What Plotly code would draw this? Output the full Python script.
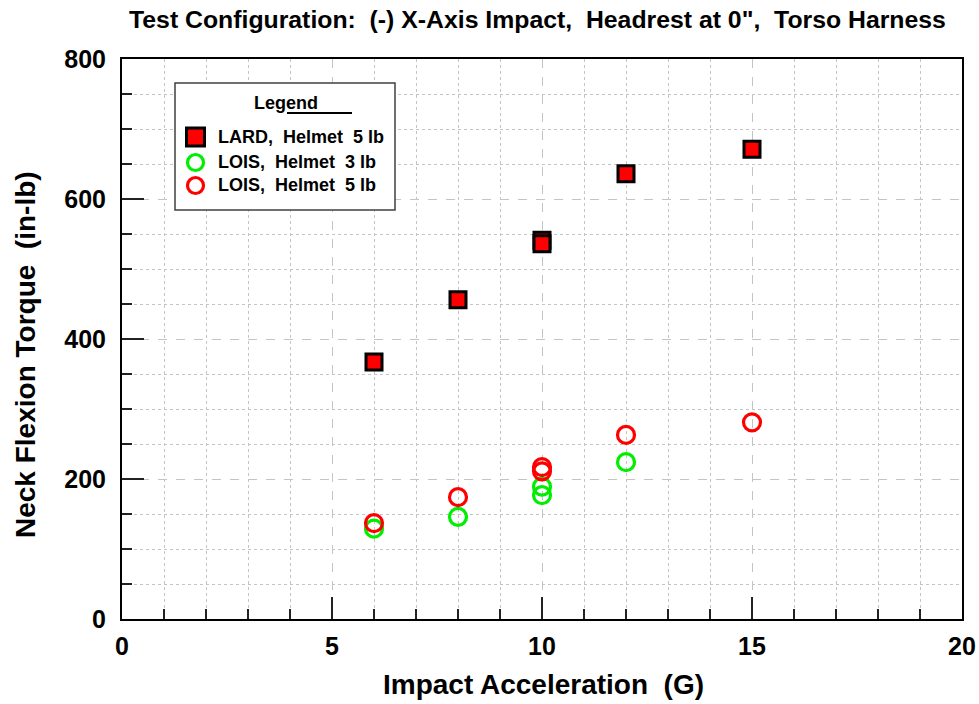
import plotly.graph_objects as go

NB = "\u00a0"

lard5_x = [6, 8, 10, 10, 12, 15]
lard5_y = [367, 456, 541, 536, 636, 671]

lois3_x = [6, 8, 10, 10, 12]
lois3_y = [129, 146, 189, 177, 224]

lois5_x = [6, 8, 10, 10, 12, 15]
lois5_y = [137, 174, 217, 211, 263, 281]

series_names = ["LARD," + NB*2 + "Helmet" + NB*2 + "5 lb",
                "LOIS," + NB*2 + "Helmet" + NB*2 + "3 lb",
                "LOIS," + NB*2 + "Helmet" + NB*2 + "5 lb"]

RED = "#ff0000"
GREEN = "#00ee00"

fig = go.Figure()
fig.add_trace(go.Scatter(x=lard5_x, y=lard5_y, mode="markers", name=series_names[0],
                         marker=dict(symbol="square", size=16, color=RED,
                                     line=dict(color="black", width=3))))
fig.add_trace(go.Scatter(x=lois3_x, y=lois3_y, mode="markers", name=series_names[1],
                         marker=dict(symbol="circle-open", size=17, color=GREEN,
                                     line=dict(color=GREEN, width=3.2))))
fig.add_trace(go.Scatter(x=lois5_x, y=lois5_y, mode="markers", name=series_names[2],
                         marker=dict(symbol="circle-open", size=17, color=RED,
                                     line=dict(color=RED, width=3.2))))

font = "Liberation Sans, Arial, sans-serif"
grid = "#c4c4c4"

# screen plot area: x 122..962, y 59..619
def py(p):
    return (619 - p) / 560.0

def px(p):
    return (p - 122) / 840.0

shapes = []
annotations = []

# legend box
shapes.append(dict(type="rect", xref="paper", yref="paper",
                   x0=px(175), x1=px(395), y0=py(210), y1=py(83),
                   line=dict(color="#404040", width=1.5), fillcolor="white", layer="above"))
annotations.append(dict(text="<b>Legend</b>", xref="paper", yref="paper",
                        x=px(286), y=py(103), xanchor="center", yanchor="middle",
                        showarrow=False, font=dict(size=18, family=font, color="black")))
shapes.append(dict(type="line", xref="paper", yref="paper",
                   x0=px(287), x1=px(352), y0=py(113), y1=py(113),
                   line=dict(color="black", width=2), layer="above"))
# legend symbols
shapes.append(dict(type="rect", xref="paper", yref="paper",
                   x0=px(186.5), x1=px(204.5), y0=py(146), y1=py(128),
                   line=dict(color="black", width=3), fillcolor=RED, layer="above"))
shapes.append(dict(type="circle", xref="paper", yref="paper",
                   x0=px(187.5), x1=px(203.5), y0=py(170.5), y1=py(154.5),
                   line=dict(color=GREEN, width=3.2), fillcolor="white", layer="above"))
shapes.append(dict(type="circle", xref="paper", yref="paper",
                   x0=px(187.5), x1=px(203.5), y0=py(193.5), y1=py(177.5),
                   line=dict(color=RED, width=3.2), fillcolor="white", layer="above"))
for name, yc in zip(series_names, [137, 161.5, 185]):
    annotations.append(dict(text="<b>" + name + "</b>", xref="paper", yref="paper",
                            x=px(216), y=py(yc), xanchor="left", yanchor="middle",
                            showarrow=False,
                            font=dict(size=18, family=font, color="black")))

annotations += [
    dict(text="<b>Test Configuration:" + NB*2 + "(-) X-Axis Impact," + NB*2 +
              "Headrest at 0\"," + NB*2 + "Torso Harness</b>",
         xref="paper", yref="paper", x=px(537), y=py(19),
         xanchor="center", yanchor="middle", showarrow=False,
         font=dict(size=24.8, family=font, color="black")),
    dict(text="<b>Impact Acceleration" + NB*2 + "(G)</b>",
         xref="paper", yref="paper", x=px(543), y=py(684),
         xanchor="center", yanchor="middle", showarrow=False,
         font=dict(size=28, family=font, color="black")),
    dict(text="<b>Neck Flexion Torque" + NB*2 + "(in-lb)</b>",
         xref="paper", yref="paper", x=px(25), y=py(355),
         xanchor="center", yanchor="middle", showarrow=False, textangle=-90,
         font=dict(size=28, family=font, color="black")),
]

fig.update_layout(
    width=979, height=704,
    margin=dict(l=122, r=17, t=59, b=85, autoexpand=False),
    paper_bgcolor="white", plot_bgcolor="white",
    font=dict(family=font, color="black"),
    showlegend=False,
    hovermode=False,
    xaxis=dict(range=[0, 20], dtick=5, tick0=0, automargin=False,
               showline=True, linecolor="black", linewidth=2, mirror=True,
               ticks="inside", ticklen=22, tickwidth=1.5, tickcolor="#222222",
               showgrid=True, gridcolor=grid, griddash="dash", gridwidth=1,
               zeroline=False, ticklabelstandoff=4,
               tickfont=dict(size=25, family=font, color="black"),
               tickprefix="<b>", ticksuffix="</b>",
               minor=dict(dtick=1, ticks="inside", ticklen=10, tickcolor="#222222",
                          showgrid=True, gridcolor=grid, griddash="dot", gridwidth=1)),
    yaxis=dict(range=[0, 800], dtick=200, tick0=0, automargin=False,
               showline=True, linecolor="black", linewidth=2, mirror=True,
               ticks="inside", ticklen=22, tickwidth=1.5, tickcolor="#222222",
               showgrid=True, gridcolor=grid, griddash="dash", gridwidth=1,
               zeroline=False, ticklabelstandoff=9,
               tickfont=dict(size=25, family=font, color="black"),
               tickprefix="<b>", ticksuffix="</b>",
               minor=dict(dtick=50, ticks="inside", ticklen=10, tickcolor="#222222",
                          showgrid=True, gridcolor=grid, griddash="dot", gridwidth=1)),
    shapes=shapes,
    annotations=annotations,
)

fig.write_html("out.html",
               config={"displayModeBar": False, "staticPlot": True},
               post_script="document.body.style.margin='0';"
                           "document.body.style.overflow='hidden';"
                           "document.documentElement.style.overflow='hidden';")
